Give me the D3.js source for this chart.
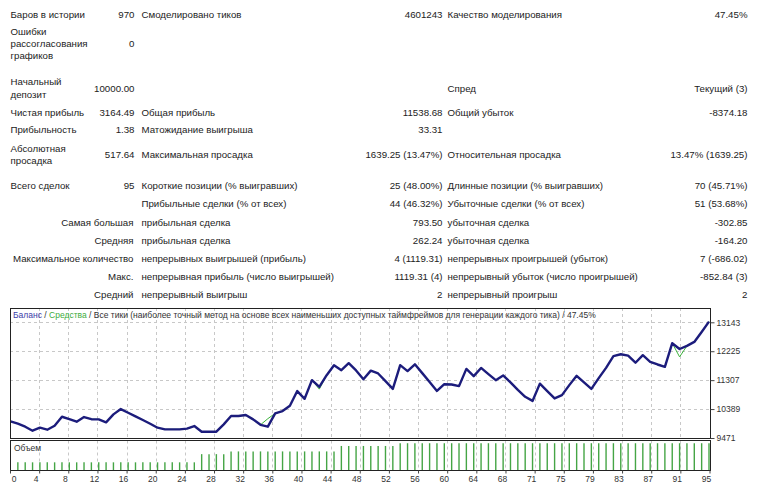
<!DOCTYPE html>
<html><head><meta charset="utf-8">
<script src="https://cdn.jsdelivr.net/npm/d3@7"></script>
<style>
body{margin:0;background:#fff;}
svg text{font-family:"Liberation Sans",Arial,sans-serif;fill:#222;}
</style></head><body>
<svg id="c" width="758" height="491"></svg>
<script>
// ---------- DATA ----------
const balance = [10000,9924,9830,9703,9798,9735,9861,10146,10073,9988,
  10136,10068,10062,9967,10220,10389,10273,10158,10041,9924,
  9798,9746,9746,9746,9770,9851,9671,9671,9671,9904,
  10168,10168,10199,10063,9890,9830,10253,10326,10494,10960,
  10715,11307,11090,11465,11782,11624,11845,11614,11335,11610,
  11519,11276,11030,11782,11595,11810,11530,11245,10965,11178,
  11170,11117,11665,11434,11695,11497,11307,11455,11234,11000,
  10779,10648,11196,10959,10727,10832,11149,11444,11234,11030,
  11371,11698,12070,12130,12085,11860,12099,11888,11804,11730,
  12480,12295,12394,12520,12837,13164];
const equityDips = [[35,10084],[42,11022],[91,12046]];
const volume = [null,
  0.3,0.3,0.3,0.3,0.3,0.3,0.3,0.3,0.3,0.3,
  0.3,0.3,0.3,0.3,0.3,0.3,0.3,0.3,0.3,0.3,
  0.3,0.3,0.3,0.3,0.3,0.6,0.6,0.6,0.6,0.7,
  0.7,0.7,0.7,0.7,0.7,0.7,0.7,0.7,0.7,0.7,
  0.7,0.7,0.7,0.7,0.9,0.9,0.9,0.9,0.9,0.9,
  0.9,0.9,1.0,1.0,1.0,1.0,1.0,1.0,1.0,1.0,
  1.0,1.0,1.0,1.0,1.0,1.0,1.0,1.0,1.0,1.0,
  1.0,1.0,1.0,1.0,1.0,1.0,1.0,1.0,1.0,1.0,
  1.0,1.0,1.0,1.0,1.0,1.0,1.0,1.0,1.0,1.0,
  1.0,1.0,1.0,1.0,1.0];
const yTicks = [9471,10389,11307,12225,13143];
const xTickLabels = [0,4,8,12,16,20,24,28,32,36,40,44,48,52,56,60,64,68,71,75,79,83,87,91,95];
const titleParts = [
  {t:"Баланс", c:"#3c3ca8"},
  {t:" / ", c:"#333"},
  {t:"Средства", c:"#3cac3c"},
  {t:" / Все тики (наиболее точный метод на основе всех наименьших доступных таймфреймов для генерации каждого тика) / 47.45%", c:"#333"}
];
const volumeLabel = "Объем";
const statRows = [
 {l1:"Баров в истории", v1:"970", l2:"Смоделировано тиков", v2:"4601243", l3:"Качество моделирования", v3:"47.45%"},
 {l1:"Ошибки\nрассогласования\nграфиков", v1:"0"},
 {l1:"Начальный\nдепозит", v1:"10000.00", l3:"Спред", v3:"Текущий (3)"},
 {l1:"Чистая прибыль", v1:"3164.49", l2:"Общая прибыль", v2:"11538.68", l3:"Общий убыток", v3:"-8374.18"},
 {l1:"Прибыльность", v1:"1.38", l2:"Матожидание выигрыша", v2:"33.31"},
 {l1:"Абсолютная\nпросадка", v1:"517.64", l2:"Максимальная просадка", v2:"1639.25 (13.47%)", l3:"Относительная просадка", v3:"13.47% (1639.25)"},
 {l1:"Всего сделок", v1:"95", l2:"Короткие позиции (% выигравших)", v2:"25 (48.00%)", l3:"Длинные позиции (% выигравших)", v3:"70 (45.71%)"},
 {l2:"Прибыльные сделки (% от всех)", v2:"44 (46.32%)", l3:"Убыточные сделки (% от всех)", v3:"51 (53.68%)"},
 {r1:"Самая большая", l2:"прибыльная сделка", v2:"793.50", l3:"убыточная сделка", v3:"-302.85"},
 {r1:"Средняя", l2:"прибыльная сделка", v2:"262.24", l3:"убыточная сделка", v3:"-164.20"},
 {r1:"Максимальное количество", l2:"непрерывных выигрышей (прибыль)", v2:"4 (1119.31)", l3:"непрерывных проигрышей (убыток)", v3:"7 (-686.02)"},
 {r1:"Макс.", l2:"непрерывная прибыль (число выигрышей)", v2:"1119.31 (4)", l3:"непрерывный убыток (число проигрышей)", v3:"-852.84 (3)"},
 {r1:"Средний", l2:"непрерывный выигрыш", v2:"2", l3:"непрерывный проигрыш", v3:"2"}
];

// ---------- LAYOUT ----------
const rowY = [14.5, 43.5, 88, 112, 129, 154.5, 185.5, 203.5, 222.5, 240.5, 258.5, 276.5, 294.5];
const lineGap = 12.3;
const colX = {l1:10.5, v1:134.5, l2:141.5, v2:442.5, l3:447.5, v3:747.5};
const tableFont = 9.7;
const svg = d3.select('#c');

const tbl = svg.append('g').attr('font-size', tableFont);
statRows.forEach((row, ri) => {
  const cy = rowY[ri];
  const put = (key, anchor) => {
    if (!row[key]) return;
    const lines = row[key].split('\n');
    const x0 = key === 'r1' ? colX.v1 - 1 : colX[key];
    lines.forEach((ln, li) => {
      tbl.append('text')
        .attr('x', x0)
        .attr('y', cy + (li - (lines.length - 1) / 2) * lineGap)
        .attr('dominant-baseline', 'central')
        .attr('text-anchor', anchor)
        .text(ln);
    });
  };
  put('l1','start'); put('r1','end'); put('v1','end');
  put('l2','start'); put('v2','end');
  put('l3','start'); put('v3','end');
});

// ---------- CHART ----------
const L = 10, R = 711, mainTop = 308, mainBot = 438, volTop = 440.5, volBot = 470.5;
const chartFont = 8.5;
const x = d3.scaleLinear().domain([0, balance.length - 1]).range([L + 0.5, R - 2]);
const y = d3.scaleLinear().domain([yTicks[0], yTicks[yTicks.length - 1]]).range([mainBot, 322.3]);
const yv = d3.scaleLinear().domain([0, 1.1]).range([volBot, volTop]);
const xg = d3.scaleLinear().domain([0, xTickLabels.length - 1]).range([L, R - 1.5]);

svg.append('defs').append('clipPath').attr('id','clipMain')
  .append('rect').attr('x', L).attr('y', mainTop).attr('width', R - L).attr('height', mainBot - mainTop);

const grid = svg.append('g').attr('stroke', '#c8c8c8').attr('stroke-dasharray', '3,3').attr('stroke-width', 1);
d3.range(1, xTickLabels.length - 1).forEach(k => {
  const gx = Math.round(xg(k)) + 0.5;
  grid.append('line').attr('x1', gx).attr('x2', gx).attr('y1', mainTop).attr('y2', mainBot);
  grid.append('line').attr('x1', gx).attr('x2', gx).attr('y1', volTop).attr('y2', volBot);
});
yTicks.slice(1).forEach(t => {
  const gy = Math.round(y(t)) + 0.5;
  grid.append('line').attr('x1', L).attr('x2', R).attr('y1', gy).attr('y2', gy);
});

// title
const title = svg.append('text').attr('x', 13).attr('y', 315).attr('dominant-baseline','central')
  .attr('font-size', chartFont);
titleParts.forEach(p => title.append('tspan').style('fill', p.c).text(p.t));

// equity and balance lines
const equity = balance.slice();
equityDips.forEach(([i, v]) => { equity[i] = v; });
const line = d3.line().x((d, i) => x(i)).y(d => y(d));
const plot = svg.append('g').attr('clip-path', 'url(#clipMain)');
plot.append('path').datum(equity).attr('d', line).attr('fill','none')
  .attr('stroke', '#3cb43c').attr('stroke-width', 1);
plot.append('path').datum(balance).attr('d', line).attr('fill','none')
  .attr('stroke', '#1c1c7c').attr('stroke-width', 2.4).attr('stroke-linejoin','round');

// volume bars
svg.append('g').selectAll('line').data(volume.map((v, i) => ({v, i})).filter(d => d.v != null))
  .join('line')
  .attr('x1', d => x(d.i)).attr('x2', d => x(d.i))
  .attr('y1', yv(0)).attr('y2', d => yv(d.v))
  .attr('stroke', '#45a545').attr('stroke-width', 1.4);

svg.append('text').attr('x', 14).attr('y', 448).attr('dominant-baseline','central')
  .attr('font-size', chartFont).style('fill','#333').text(volumeLabel);

// frames
svg.append('rect').attr('x', L + 0.5).attr('y', mainTop + 0.5).attr('width', R - L - 1).attr('height', mainBot - mainTop)
  .attr('fill','none').attr('stroke','#222');
svg.append('rect').attr('x', L + 0.5).attr('y', volTop).attr('width', R - L - 1).attr('height', volBot - volTop)
  .attr('fill','none').attr('stroke','#222');

// right axis
const yAxis = d3.axisRight(y).tickValues(yTicks).tickSize(4).tickPadding(2).tickFormat(d3.format('d'));
const ya = svg.append('g').attr('transform', `translate(${R - 0.5},0)`).call(yAxis);
ya.select('.domain').remove();
ya.selectAll('text').attr('font-size', chartFont).style('fill','#333').style('font-family','"Liberation Sans",Arial,sans-serif');
ya.selectAll('line').attr('stroke','#444');

// bottom axis
const xAxis = d3.axisBottom(xg).tickValues(d3.range(xTickLabels.length)).tickSize(3).tickPadding(2)
  .tickFormat(k => xTickLabels[k]);
const xa = svg.append('g').attr('transform', `translate(0,${volBot})`).call(xAxis);
xa.select('.domain').remove();
xa.selectAll('line').attr('stroke','#444');
xa.selectAll('text').attr('font-size', chartFont).style('fill','#333').style('font-family','"Liberation Sans",Arial,sans-serif')
  .attr('dx', k => k === 0 ? 3.5 : -3.5);
</script>
</body></html>
